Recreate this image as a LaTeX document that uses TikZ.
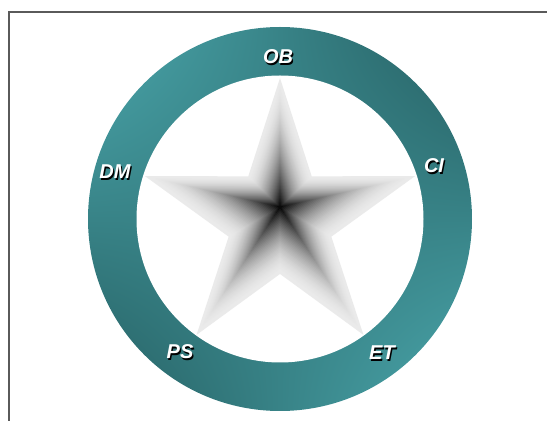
\documentclass[tikz,border=0pt]{standalone}
\usepackage{fontspec}
\setsansfont{Liberation Sans}
\usetikzlibrary{shadings}
\definecolor{tealhi}{RGB}{76,170,175}
\definecolor{teallo}{RGB}{36,92,95}
\definecolor{framegray}{RGB}{90,90,90}
\tikzset{
  lbl/.style={font=\sffamily\bfseries\itshape\fontsize{15}{15}\selectfont, text=white, inner sep=0pt},
  lblshadow/.style={lbl, text=black},
}
\newcommand{\starpath}{(90:142) -- (126:54) -- (162:142) -- (198:54) -- (234:142) -- (270:54) -- (306:142) -- (342:54) -- (18:142) -- (54:54) -- cycle}
\begin{document}
\begin{tikzpicture}[x=0.75pt,y=0.75pt]
\useasboundingbox (0,0) rectangle (547,421);
\clip (0,0) rectangle (547,421);
% frame
\draw[line width=1.5pt, framegray] (8.5,-10) -- (8.5,409) -- (560,409);
% ring
\shade[upper left=tealhi, lower right=tealhi, upper right=teallo, lower left=teallo] (280,202) circle (192);
\fill[white] (280,202) circle (143.5);
% star, nested bands towards the dark point
\foreach \i in {40,...,1} {
  \pgfmathsetmacro\s{\i/40}
  \pgfmathsetmacro\k{100-92*(1-(1-\s)^1.8)}
  \begin{scope}[shift={(280,{214-13*\s})}, scale=\s]
    \fill[black!\k!white] \starpath;
  \end{scope}
}
% labels
\foreach \nm/\x/\y/\txt in {ob/278/364/OB, dm/115/249/DM, ci/434/255/CI, ps/180/69/PS, et/382/68/ET} {
  \node[lblshadow] (\nm-s) at ({\x+1.3},{\y-1.3}) {\txt};
  \node[lbl] (\nm) at (\x,\y) {\txt};
}
\end{tikzpicture}
\end{document}
